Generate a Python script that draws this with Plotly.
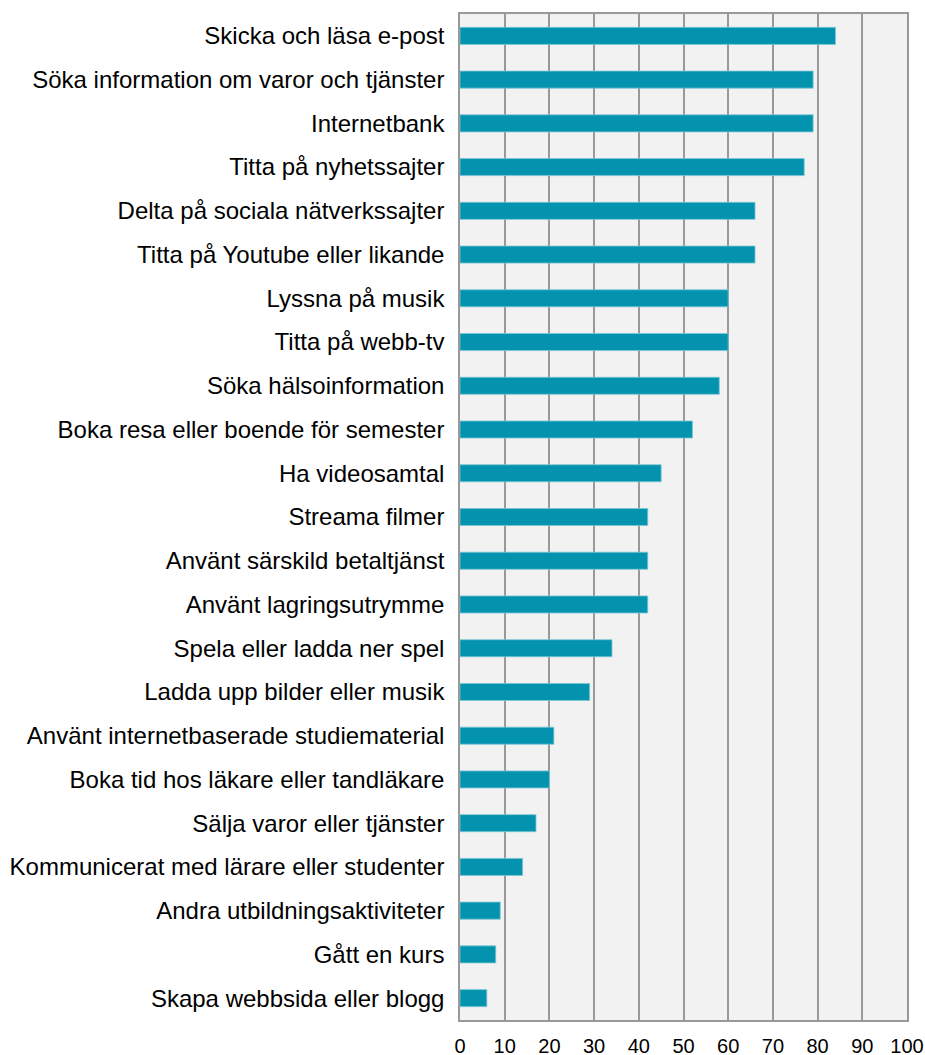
import plotly.graph_objects as go

categories = [
    "Skicka och läsa e-post",
    "Söka information om varor och tjänster",
    "Internetbank",
    "Titta på nyhetssajter",
    "Delta på sociala nätverkssajter",
    "Titta på Youtube eller likande",
    "Lyssna på musik",
    "Titta på webb-tv",
    "Söka hälsoinformation",
    "Boka resa eller boende för semester",
    "Ha videosamtal",
    "Streama filmer",
    "Använt särskild betaltjänst",
    "Använt lagringsutrymme",
    "Spela eller ladda ner spel",
    "Ladda upp bilder eller musik",
    "Använt internetbaserade studiematerial",
    "Boka tid hos läkare eller tandläkare",
    "Sälja varor eller tjänster",
    "Kommunicerat med lärare eller studenter",
    "Andra utbildningsaktiviteter",
    "Gått en kurs",
    "Skapa webbsida eller blogg",
]
values = [84, 79, 79, 77, 66, 66, 60, 60, 58, 52, 45, 42, 42, 42, 34, 29, 21, 20, 17, 14, 9, 8, 6]
x_ticks = list(range(0, 101, 10))

fig = go.Figure(go.Bar(
    x=values,
    y=categories,
    orientation="h",
    marker=dict(color="#0493ae", line=dict(color="#7cc6d6", width=0.8)),
    hoverinfo="x+y",
))

fig.update_layout(
    width=925, height=1055,
    margin=dict(l=460, r=18, t=14, b=35),
    paper_bgcolor="white",
    plot_bgcolor="#f2f2f2",
    bargap=0.61,
    showlegend=False,
    font=dict(family="Liberation Sans, Arial, sans-serif", size=24, color="#000000"),
)
fig.update_xaxes(
    range=[0, 100],
    tickvals=x_ticks,
    showgrid=True, gridcolor="#999999", gridwidth=1.5,
    zeroline=False,
    showline=True, linecolor="#999999", linewidth=1.5, mirror=True,
    ticks="", ticklabelstandoff=7,
    ticklabeloverflow="allow",
    tickfont=dict(size=20),
    automargin=False,
    fixedrange=True,
)
fig.update_yaxes(
    categoryorder="array", categoryarray=categories[::-1],
    autorange=False, range=[-0.5, len(categories) - 0.5],
    showgrid=False, zeroline=False,
    showline=True, linecolor="#999999", linewidth=1.5, mirror=True,
    ticks="", ticklabelstandoff=9,
    tickfont=dict(size=24),
    automargin=False,
    fixedrange=True,
)

fig.write_html(
    "out.html",
    config={"displayModeBar": False},
    post_script="document.body.style.margin='0';document.body.style.overflow='hidden';",
)
